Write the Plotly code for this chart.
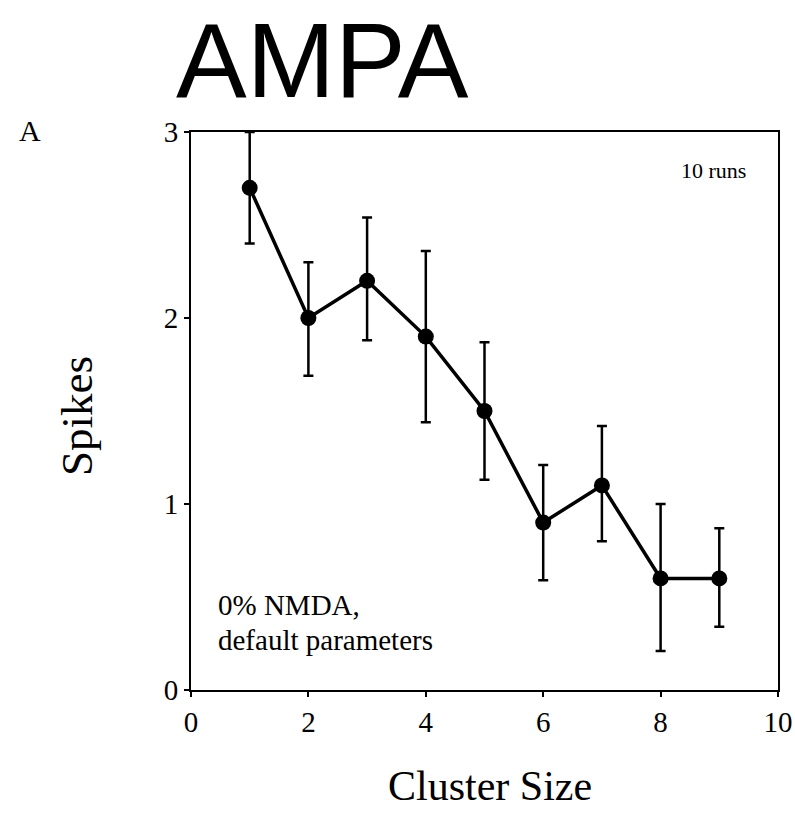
import plotly.graph_objects as go

# Mean spike count per cluster size, with error bar extents (10 runs)
cluster_size = [1, 2, 3, 4, 5, 6, 7, 8, 9]
spikes = [2.70, 2.00, 2.20, 1.90, 1.50, 0.90, 1.10, 0.60, 0.60]
err_plus = [0.30, 0.30, 0.34, 0.46, 0.37, 0.31, 0.32, 0.40, 0.27]
err_minus = [0.30, 0.31, 0.32, 0.46, 0.37, 0.31, 0.30, 0.39, 0.26]

x_ticks = [0, 2, 4, 6, 8, 10]
y_ticks = [0, 1, 2, 3]

serif = "Liberation Serif, DejaVu Serif, serif"
sans = "Liberation Sans, Arial, sans-serif"

W, H = 795, 813
ML, MR, MT, MB = 191, 17, 132, 123
PW, PH = W - ML - MR, H - MT - MB


def px(x):
    """Horizontal pixel -> paper fraction."""
    return (x - ML) / PW


def py(y):
    """Vertical pixel (from top) -> paper fraction."""
    return (H - MB - y) / PH


fig = go.Figure()
fig.add_trace(go.Scatter(
    x=cluster_size,
    y=spikes,
    mode="lines+markers",
    line=dict(color="black", width=3.5),
    marker=dict(color="black", size=16),
    error_y=dict(
        type="data",
        symmetric=False,
        array=err_plus,
        arrayminus=err_minus,
        color="black",
        thickness=2.5,
        width=5,
    ),
    cliponaxis=False,
    showlegend=False,
))

axis_common = dict(
    ticks="outside",
    ticklen=5,
    tickwidth=1.5,
    tickcolor="black",
    tickfont=dict(family=serif, size=29),
    showline=True,
    linecolor="black",
    linewidth=2,
    mirror=True,
    showgrid=False,
    zeroline=False,
    automargin=False,
)

fig.update_layout(
    width=W,
    height=H,
    margin=dict(l=ML, r=MR, t=MT, b=MB, autoexpand=False),
    paper_bgcolor="white",
    plot_bgcolor="white",
    font=dict(family=serif, color="black"),
    xaxis=dict(range=[0, 10], tickvals=x_ticks,
               ticktext=[str(v) for v in x_ticks], **axis_common),
    yaxis=dict(range=[0, 3], tickvals=y_ticks,
               ticktext=[str(v) for v in y_ticks], **axis_common),
)

notes = [
    # (text, x px, y px, anchor, size, family, angle)
    ("AMPA", 322, 60, "center", 106, sans, 0),
    ("A", 30, 131, "center", 30, serif, 0),
    ("10 runs", 713, 170, "center", 22, serif, 0),
    ("0% NMDA,", 216, 605, "left", 29, serif, 0),
    ("default parameters", 216, 640, "left", 29, serif, 0),
    ("Cluster Size", 490, 786, "center", 42, serif, 0),
    ("Spikes", 77, 416, "center", 45, serif, -90),
]
for text, x, y, anchor, size, family, angle in notes:
    fig.add_annotation(
        text=text, xref="paper", yref="paper", x=px(x), y=py(y),
        xanchor=anchor, yanchor="middle", showarrow=False, textangle=angle,
        font=dict(family=family, size=size, color="black"),
    )

fig.write_html("out.html")
